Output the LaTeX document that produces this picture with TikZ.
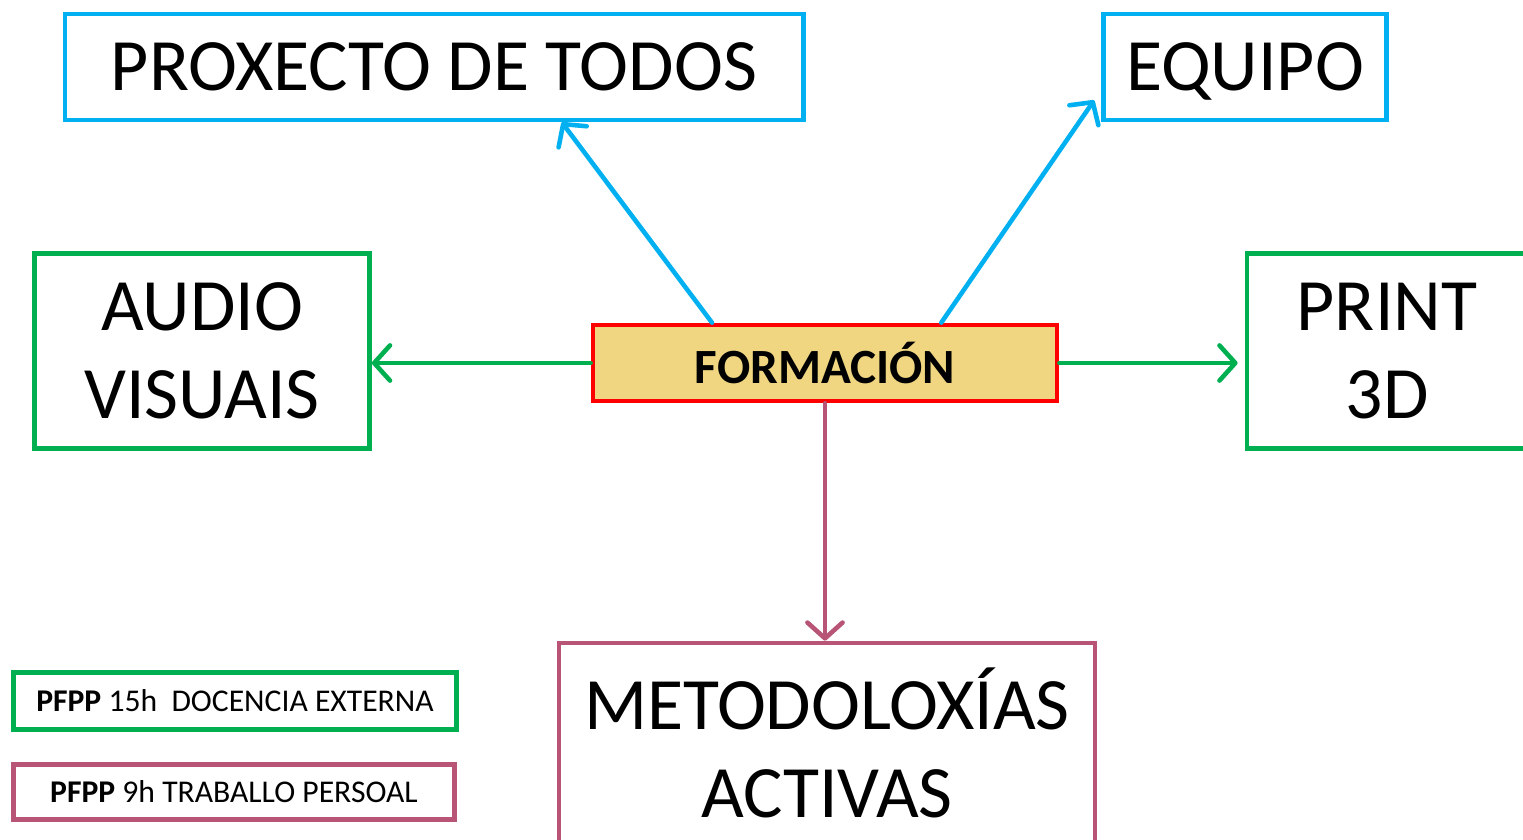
\documentclass[tikz,border=0pt]{standalone}
\usepackage{fontspec}
\setmainfont{Carlito}
\usetikzlibrary{arrows.meta,calc}
\definecolor{azul}{RGB}{0,176,240}
\definecolor{verde}{RGB}{0,176,80}
\definecolor{malva}{RGB}{184,85,118}
\definecolor{ouro}{RGB}{240,214,128}

\begin{document}
\begin{tikzpicture}[x=0.01cm, y=-0.01cm, line width=1.3pt,
    caixa/.style={draw, rectangle, inner sep=0pt, align=center,
                  font=\fontsize{21}{25}\selectfont},
    lenda/.style={draw, rectangle, inner sep=0pt,
                  font=\fontsize{9}{11}\selectfont},
    frecha/.style={-{Straight Barb[length=4.5pt,width=10pt,round]}, line cap=round}]
  \useasboundingbox (0,0) rectangle (1523,840);

  \node[caixa,draw=red,fill=ouro,minimum width=4.64cm,minimum height=0.76cm,
        font=\fontsize{14}{17}\selectfont\bfseries] (FO) at (825,363) {FORMACIÓN};
  \node[caixa,draw=azul,minimum width=7.38cm,minimum height=1.06cm,text depth=0pt] (PT) at (434,67) {PROXECTO DE TODOS};
  \node[caixa,draw=azul,minimum width=2.83cm,minimum height=1.06cm,text depth=0pt] (EQ) at (1245,67) {EQUIPO};
  \node[caixa,draw=verde,minimum width=3.35cm,minimum height=1.95cm] (AV) at (202,351) {AUDIO\\VISUAIS};
  \node[caixa,draw=verde,minimum width=2.80cm,minimum height=1.95cm] (P3) at (1387,351) {PRINT\\3D};
  \node[caixa,draw=malva,minimum width=5.36cm,minimum height=2.00cm] (MA) at (827,743) {METODOLOXÍAS\\ACTIVAS};
  \node[lenda,draw=verde,minimum width=4.43cm,minimum height=0.57cm] (L1) at (235,701) {\textbf{PFPP} 15h\ \ DOCENCIA EXTERNA};
  \node[lenda,draw=malva,minimum width=4.41cm,minimum height=0.55cm] (L2) at (234,792) {\textbf{PFPP} 9h TRABALLO PERSOAL};

  \path[frecha]
    ($(FO.north west)!0.259!(FO.north east)$) edge[azul] ($(PT.south west)!0.672!(PT.south east)$)
    ($(FO.north west)!0.748!(FO.north east)$) edge[azul] ($(EQ.south west)+(-7,-22)$)
    (FO.west) edge[verde] (FO.west -| AV.east)
    (FO.east) edge[verde, shorten >=2pt] (FO.east -| P3.west)
    (FO.south) edge[malva] (FO.south |- MA.north)
    ;
\end{tikzpicture}
\end{document}
